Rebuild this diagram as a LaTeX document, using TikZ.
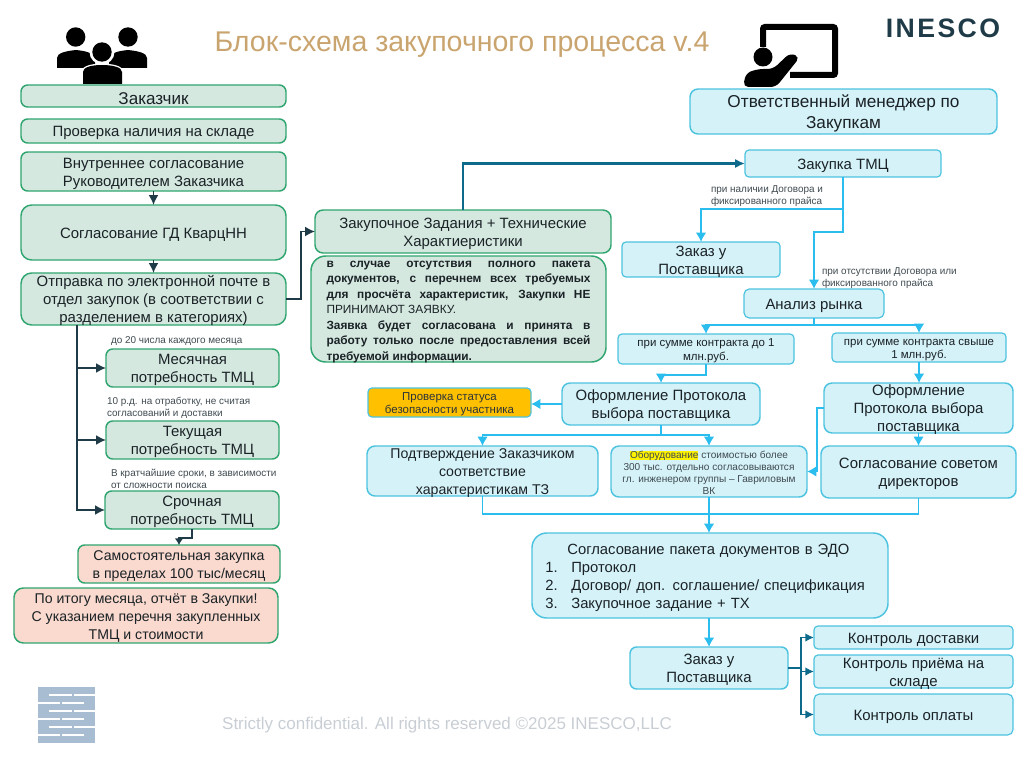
\documentclass[tikz,border=0pt]{standalone}
\usepackage{fontspec}
\setmainfont{Liberation Sans}
\newfontfamily\inescofont[LetterSpace=9]{Liberation Sans}
\usetikzlibrary{arrows.meta}
\definecolor{gfill}{HTML}{D5E8E0}
\definecolor{gline}{HTML}{2FA56F}
\definecolor{pfill}{HTML}{FAD9CE}
\definecolor{bfill}{HTML}{D5F2F9}
\definecolor{bline}{HTML}{4DC3E0}
\definecolor{barrow}{HTML}{2BBDEE}
\definecolor{darkarrow}{HTML}{1F3B47}
\definecolor{tealarrow}{HTML}{0E6A8A}
\definecolor{titlecol}{HTML}{C9A46E}
\definecolor{footcol}{HTML}{C8CED4}
\definecolor{notecol}{HTML}{3F4A50}
\definecolor{logocol}{HTML}{A9BDD2}
\definecolor{txt}{HTML}{1A2226}
\definecolor{amber}{HTML}{FFC000}
\newcommand\bx[7]{%
  \pgfmathsetlengthmacro\bxw{(#4-#2)*0.75pt}%
  \pgfmathsetlengthmacro\bxh{(#5-#3)*0.75pt}%
  \node[#6,minimum width=\bxw,minimum height=\bxh] (#1) at ({(#2+#4)/2},{(#3+#5)/2}) {\rule{0pt}{1em}#7};}
\tikzset{
  x=0.75pt,y=-0.75pt,
  basebox/.style={draw,line width=1.1pt,rounded corners=5pt,inner xsep=0pt,inner ysep=-14pt,outer sep=0pt,align=center,text=txt,
    font=\fontsize{11.2}{13.5}\selectfont},
  gbox/.style={basebox,draw=gline,fill=gfill},
  pbox/.style={basebox,draw=gline,fill=pfill,font=\fontsize{10.6}{13.5}\selectfont},
  bluebox/.style={basebox,draw=bline,fill=bfill},
  smalltext/.style={font=\fontsize{8.6}{10.4}\selectfont},
  tinytext/.style={font=\fontsize{7.55}{9.2}\selectfont,text=notecol},
  note/.style={inner sep=0pt,outer sep=0pt,align=left,anchor=west,text=notecol,font=\fontsize{7.45}{8.75}\selectfont},
  dk/.style={draw=darkarrow,line width=1.3pt,-{Latex[length=7.5pt,width=7.5pt]}},
  dkteal/.style={draw=tealarrow,line width=1.4pt,-{Latex[length=6.5pt,width=6.5pt]}},
  thickteal/.style={draw=tealarrow,line width=2.2pt,-{Latex[length=7.5pt,width=7pt]}},
  bl/.style={draw=barrow,line width=1.4pt,-{Latex[length=7pt,width=8pt]}},
  blplain/.style={draw=barrow,line width=1.4pt},
}
\begin{document}
\begin{tikzpicture}
\useasboundingbox (0,0) rectangle (1024,767);
% title
\node[text=titlecol,font=\fontsize{21.4}{24}\selectfont,inner sep=0pt] (title) at (462,45) {Блок-схема закупочного процесса v.4};
\node[text=footcol,font=\fontsize{12.75}{15}\selectfont,inner sep=0pt] (foot) at (447,725) {Strictly confidential. All rights reserved ©2025 INESCO,LLC};
\node[text=darkarrow,font=\inescofont\bfseries\fontsize{20}{22}\selectfont,inner sep=0pt] (brand) at (943,28.5) {INESCO};
% people icon
\fill[black] (75.7,37) circle[radius=9.7];
\fill[black] (128,37) circle[radius=9.7];
\fill[black] (57,68) -- (57,58) .. controls (57,53) and (66,51) .. (76,50) .. controls (86,51) and (95,53) .. (95,60) -- (95,68) -- cycle;
\fill[black] (147,68) -- (147,58) .. controls (147,53) and (138,51) .. (128,50) .. controls (118,51) and (109,53) .. (109,60) -- (109,68) -- cycle;
\fill[white] (102,52) circle[radius=12.5];
\filldraw[white,line width=2pt] (83,84) -- (83,72) .. controls (83,67) and (92,65) .. (102,65) .. controls (112,65) and (122,67) .. (122,72) -- (122,84) -- cycle;
\fill[black] (102,52) circle[radius=9.7];
\fill[black] (83,84) -- (83,72) .. controls (83,67) and (92,65) .. (102,65) .. controls (112,65) and (122,67) .. (122,72) -- (122,84) -- cycle;
% presenter icon
\draw[black,line width=4.5pt,rounded corners=1.5pt] (763,47) -- (763,27) -- (835,27) -- (835,75) -- (790,75);
\fill[black] (763,57) circle[radius=9.5];
\fill[black,rounded corners=4pt] (743,87) -- (746,73) -- (758,69) -- (773,69) -- (790,53) -- (800,57) -- (776,87) -- cycle;
% logo
\fill[logocol] (38,687) rectangle (95,743);
\foreach \yy in {695,711,727} {\draw[white,line width=1.1pt] (49,\yy) -- (72,\yy) (74,\yy) -- (95,\yy);}
\foreach \yy in {703,719,735} {\draw[white,line width=1.1pt] (38,\yy) -- (60,\yy) (62,\yy) -- (84,\yy);}
% left column
\bx{zak}{21}{85}{286}{107}{gbox,font=\fontsize{12.8}{14}\selectfont}{Заказчик}
\bx{prov}{21}{119}{286}{143}{gbox}{Проверка наличия на складе}
\bx{vnutr}{21}{152}{286}{191}{gbox}{Внутреннее согласование\\Руководителем Заказчика}
\bx{sogl}{21}{205}{286}{260}{gbox,rounded corners=8pt}{Согласование ГД КварцНН}
\bx{otpr}{21}{273}{286}{325}{gbox,rounded corners=8pt}{Отправка по электронной почте в\\отдел закупок (в соответствии с\\разделением в категориях)}
\bx{mes}{106}{349}{279}{387}{gbox}{Месячная\\потребность ТМЦ}
\bx{tek}{106}{421}{279}{459}{gbox}{Текущая\\потребность ТМЦ}
\bx{sroch}{105}{491}{279}{529}{gbox}{Срочная\\потребность ТМЦ}
\bx{samost}{78}{545}{280}{583}{pbox}{Самостоятельная закупка\\в пределах 100 тыс/месяц}
\bx{itog}{14}{588}{278}{643}{pbox,rounded corners=7pt}{По итогу месяца, отчёт в Закупки!\\С указанием перечня закупленных\\ТМЦ и стоимости}
\node[note] (n1) at (111,341) {до 20 числа каждого месяца};
\node[note] (n2) at (107,408) {10 р.д. на отработку, не считая\\согласований и доставки};
\node[note] (n3) at (111,479) {В кратчайшие сроки, в зависимости\\от сложности поиска};
% middle
\bx{zad}{315}{210}{611}{253}{gbox,rounded corners=6pt}{Закупочное Задания + Технические\\Характиеристики}
\bx{sluch}{311}{256}{606}{362}{gbox,rounded corners=11pt,text width=198pt,align=justify,font=\fontsize{8.9}{11.66}\selectfont\bfseries}{в случае отсутствия полного пакета\linebreak документов, с перечнем всех требуемых\linebreak для просчёта характеристик, Закупки НЕ\linebreak {\mdseries ПРИНИМАЮТ ЗАЯВКУ.}\\Заявка будет согласована и принята в\linebreak работу только после предоставления всей\linebreak требуемой информации.}
% right
\bx{resp}{690}{89}{997}{134}{bluebox,rounded corners=6pt,font=\fontsize{12.9}{15.6}\selectfont}{Ответственный менеджер по\\Закупкам}
\bx{zakup}{745}{150}{941}{177}{bluebox,line width=0.9pt,rounded corners=3pt}{Закупка ТМЦ}
\bx{zakazA}{622}{242}{780}{277}{bluebox,line width=0.9pt,rounded corners=3pt}{Заказ у\\Поставщика}
\bx{analiz}{744}{289}{884}{318}{bluebox,line width=0.9pt,rounded corners=4pt}{Анализ рынка}
\bx{sumA}{618}{334}{794}{364}{bluebox,smalltext,line width=0.9pt,rounded corners=3pt}{при сумме контракта до 1\\млн.руб.}
\bx{sumB}{832}{333}{1006}{362}{bluebox,smalltext,line width=0.9pt,rounded corners=3pt}{при сумме контракта свыше\\1 млн.руб.}
\bx{oformA}{562}{383}{760}{425}{bluebox,rounded corners=6pt}{Оформление Протокола\\выбора поставщика}
\bx{status}{368}{388}{531}{417}{basebox,draw=bline,fill=amber,smalltext,text=notecol!70!black,line width=0.9pt,rounded corners=3pt}{Проверка статуса\\безопасности участника}
\bx{oformB}{824}{383}{1013}{433}{bluebox,rounded corners=6pt}{Оформление\\Протокола выбора\\поставщика}
\bx{podtv}{367}{446}{598}{496}{bluebox,rounded corners=6pt,font=\fontsize{10.6}{13.5}\selectfont}{Подтверждение Заказчиком\\соответствие\\характеристикам ТЗ}
\bx{obor}{611}{446}{807}{497}{bluebox,tinytext,rounded corners=6pt}{{\setlength{\fboxsep}{0pt}\colorbox{yellow}{Оборудование}} стоимостью более\\300 тыс. отдельно согласовываются\\гл. инженером группы – Гавриловым\\ВК}
\bx{sovet}{821}{446}{1016}{498}{bluebox,rounded corners=6pt}{Согласование советом\\директоров}
\bx{edo}{532}{533}{888}{618}{bluebox,rounded corners=11pt,align=left,text width=247pt,font=\fontsize{11.1}{13.5}\selectfont}{\hspace*{16.5pt}Согласование пакета документов в ЭДО\\\makebox[19.5pt][l]{1.}Протокол\\\makebox[19.5pt][l]{2.}Договор/ доп. соглашение/ спецификация\\\makebox[19.5pt][l]{3.}Закупочное задание + ТХ}
\bx{zakazB}{630}{647}{788}{689}{bluebox,rounded corners=5pt}{Заказ у\\Поставщика}
\bx{dost}{814}{626}{1013}{649}{bluebox,line width=0.9pt,rounded corners=3pt}{Контроль доставки}
\bx{priem}{814}{655}{1013}{688}{bluebox,line width=0.9pt,rounded corners=3pt}{Контроль приёма на\\складе}
\bx{opl}{814}{694}{1013}{735}{bluebox,line width=0.9pt,rounded corners=4pt}{Контроль оплаты}
\node[note] (n4) at (711,196) {при наличии Договора и\\фиксированного прайса};
\node[note] (n5) at (822,278) {при отсутствии Договора или\\фиксированного прайса};
% connectors, left
\draw[dk] (vnutr.south) -- (sogl.north);
\draw[dk] (sogl.south) -- (otpr.north);
\draw[dk] (otpr.east) -- ++(15,0) |- (zad.west);
\coordinate (otprB) at (77,325);
\draw[dk] (otprB) |- (mes.west);
\draw[dk] (otprB) |- (tek.west);
\draw[dk] (otprB) |- (sroch.west);
\draw[dk,-{Latex[length=5pt,width=6.5pt]}] (sroch.south) -- ++(0,9) -| (samost.north);
\draw[thickteal] (zad.north) |- (zakup.west);
% connectors, right
\draw[bl] (zakup.south) -- ++(0,32) -| (zakazA.north);
\draw[bl] (zakup.south) -- ++(0,55) -| (analiz.north);
\draw[bl] (analiz.south) -- ++(0,7) -| (sumA.north);
\draw[bl] (analiz.south) -- ++(0,7) -| (sumB.north);
\draw[bl] (sumA.south) -- ++(0,11) -| (oformA.north);
\draw[bl] (sumB.south) -- (sumB.south |- oformB.north);
\draw[bl] (oformA.west) -- (oformA.west -| status.east);
\draw[bl] (oformA.south) -- ++(0,10) -| (podtv.north);
\draw[bl] (oformA.south) -- ++(0,10) -| (obor.north);
\draw[bl] (oformB.south) -- (oformB.south |- sovet.north);
\draw[bl] (oformB.west) -- ++(-7,0) |- (obor.east);
\draw[blplain] (podtv.south) -- ++(0,18) -| (obor.south);
\draw[blplain] (sovet.south) -- ++(0,16) -| (obor.south);
\draw[bl] (obor.south) -- (obor.south |- edo.north);
\draw[bl] (zakazB.north |- edo.south) -- (zakazB.north);
\draw[dkteal] (zakazB.east) -- ++(13,0) |- (dost.west);
\draw[dkteal] (zakazB.east) -- ++(13,0) |- (priem.west);
\draw[dkteal] (zakazB.east) -- ++(13,0) |- (opl.west);
\end{tikzpicture}
\end{document}
